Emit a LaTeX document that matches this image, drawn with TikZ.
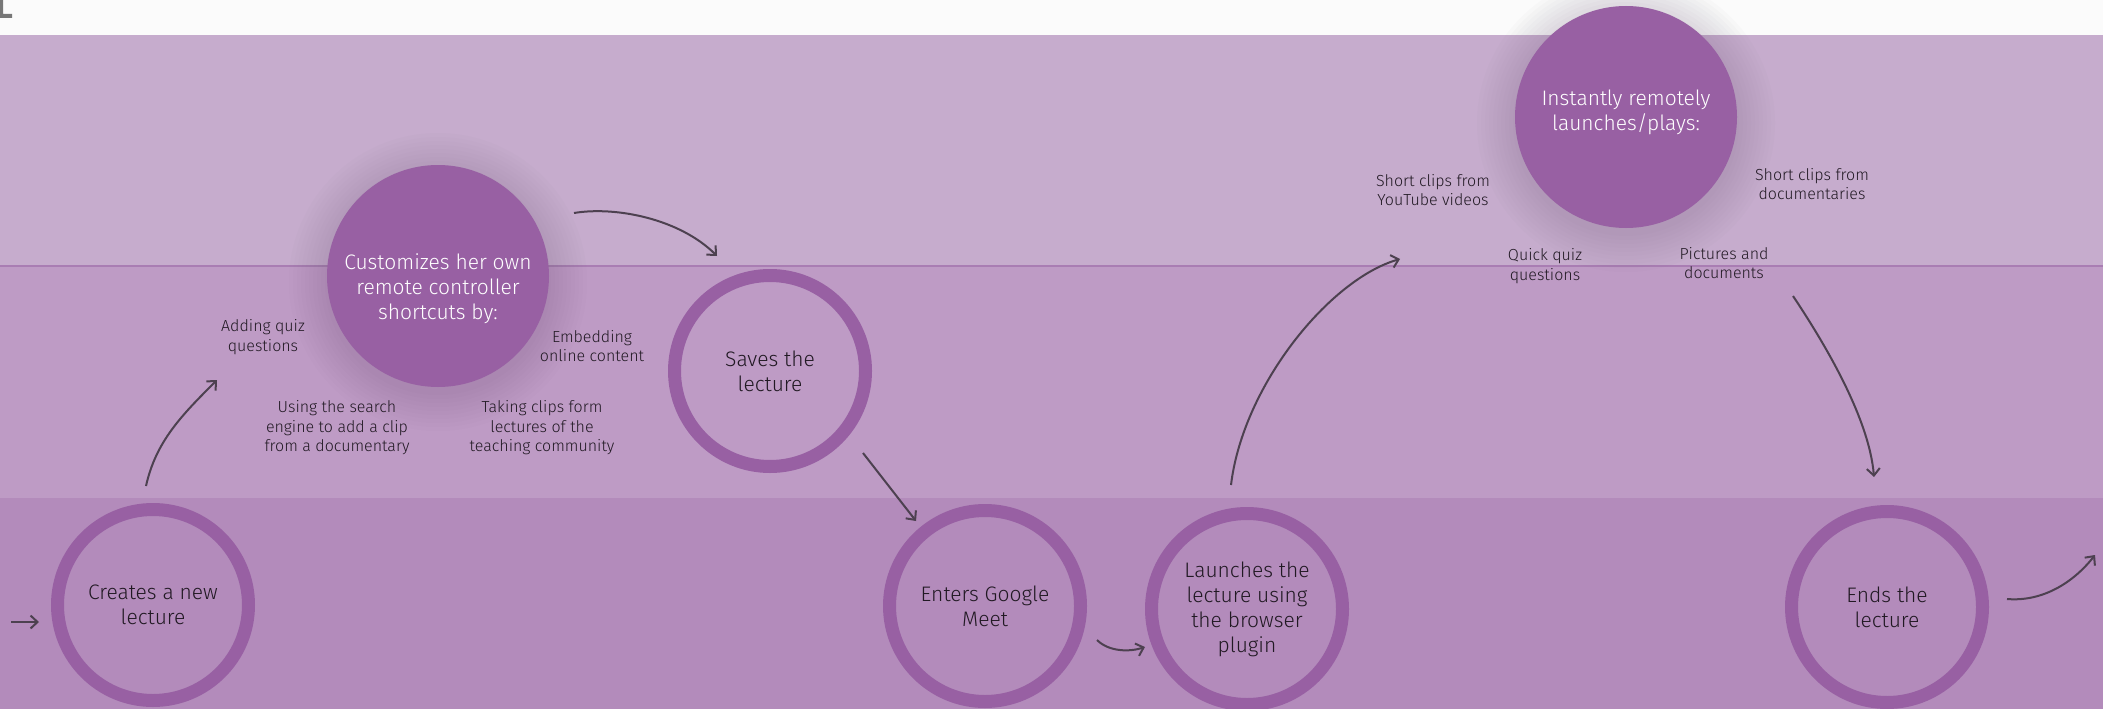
\documentclass[tikz,border=0pt]{standalone}
\usepackage{fontspec}
\setmainfont{Fira Sans}[UprightFont=* Light]
\usetikzlibrary{arrows.meta,calc}

\definecolor{paper}{HTML}{FBFBFB}
\definecolor{bandtop}{HTML}{C6ACCD}
\definecolor{bandmid}{HTML}{BE9BC5}
\definecolor{bandlow}{HTML}{B38BBB}
\definecolor{bandline}{HTML}{A97DB3}
\definecolor{plum}{HTML}{9860A3}
\definecolor{halo}{HTML}{6F5877}
\definecolor{ink}{HTML}{211923}
\definecolor{arrowink}{HTML}{4D4150}
\definecolor{cornermark}{HTML}{777777}

\begin{document}
\begin{tikzpicture}[x=1pt,y=-1pt,
  ringstep/.style={circle, draw=plum, line width=13pt, minimum size=191pt,
    inner sep=0pt, align=center, text=ink, font=\fontsize{21}{25}\selectfont},
  hubstep/.style={circle, fill=plum, minimum size=222pt, inner sep=0pt},
  hubtext/.style={align=center, text=white, font=\fontsize{21}{25}\selectfont},
  option/.style={align=center, text=ink, inner sep=0pt, font=\fontsize{16}{19.5}\selectfont},
  flow/.style={draw=arrowink, line width=2pt,
    -{Straight Barb[length=7pt,width=13pt]}},
]
\useasboundingbox (0,0) rectangle (2103,709);

% swimlane bands
\fill[paper] (0,0) rectangle (2103,35);
\fill[bandtop] (0,35) rectangle (2103,266);
\fill[bandmid] (0,266) rectangle (2103,498);
\fill[bandlow] (0,498) rectangle (2103,709);
\draw[bandline, line width=1.5pt] (0,266) -- (2103,266);

% corner mark
\fill[cornermark] (0,0) -- (3,0) -- (3,14) -- (12,14) -- (12,18) -- (0,18) -- cycle;

% soft halos behind the two hub circles
\foreach \cx/\cy in {438/282, 1626/123} {
  \foreach \r in {113,117,...,149} {
    \fill[halo, opacity=0.025] (\cx,\cy) circle[radius=\r pt];
  }
}

% steps
\node[ringstep] (create) at (153,605) {Creates a new\\lecture};
\node[hubstep] (custom) at (438,276) {};
\node[hubtext] (customtext) at (438,289) {Customizes her own\\remote controller\\shortcuts by:};
\node[ringstep] (save) at (770,371) {Saves the\\lecture};
\node[ringstep] (meet) at (985,606) {Enters Google\\Meet};
\node[ringstep] (launch) at (1247,609) {Launches the\\lecture using\\the browser\\plugin};
\node[hubstep] (instant) at (1626,117) {};
\node[hubtext] (instanttext) at (1626,112) {Instantly remotely\\launches/plays:};
\node[ringstep] (finish) at (1887,607) {Ends the\\lecture};

% options around the hubs
\node[option] (quiz) at (263,337) {Adding quiz\\questions};
\node[option] (embed) at (592,346) {Embedding\\online content};
\node[option] (search) at (337,428) {Using the search\\engine to add a clip\\from a documentary};
\node[option] (community) at (542,428) {Taking clips form\\lectures of the\\teaching community};
\node[option] (youtube) at (1433,190) {Short clips from\\YouTube videos};
\node[option] (docs) at (1812,184) {Short clips from\\documentaries};
\node[option] (qquiz) at (1545,266) {Quick quiz\\questions};
\node[option] (pics) at (1724,263) {Pictures and\\documents};

% free ends of connectors
\coordinate (entry) at (11,622);
\coordinate (toquiz) at ($(quiz.center)+(-46,43)$);
\coordinate (toyoutube) at ($(youtube.center)+(-33,69)$);
\coordinate (frompics) at ($(pics.center)+(69,33)$);
\coordinate (exit) at (2095,555);

% connectors
\draw[flow] (entry) -- ($(create.center)+(-114,17)$);
\draw[flow] ($(create.center)+(-7,-119)$) .. controls +(10,-45) and +(-35,35) .. (toquiz);
\draw[flow] ($(custom.center)+(136,-63)$) .. controls +(42,-7) and +(-37,-37) .. ($(save.center)+(-53,-115)$);
\draw[flow] ($(save.center)+(93,82)$) -- ($(meet.center)+(-69,-85)$);
\draw[flow] ($(meet.center)+(112,34)$) .. controls +(12,12) and +(-15,5) .. ($(launch.center)+(-102,38)$);
\draw[flow] ($(launch.center)+(-16,-124)$) .. controls +(12,-100) and +(-70,20) .. (toyoutube);
\draw[flow] (frompics) .. controls +(30,45) and +(-5,-60) .. ($(finish.center)+(-13,-130)$);
\draw[flow] ($(finish.center)+(120,-8)$) .. controls +(35,3) and +(-22,28) .. (exit);
\end{tikzpicture}
\end{document}
